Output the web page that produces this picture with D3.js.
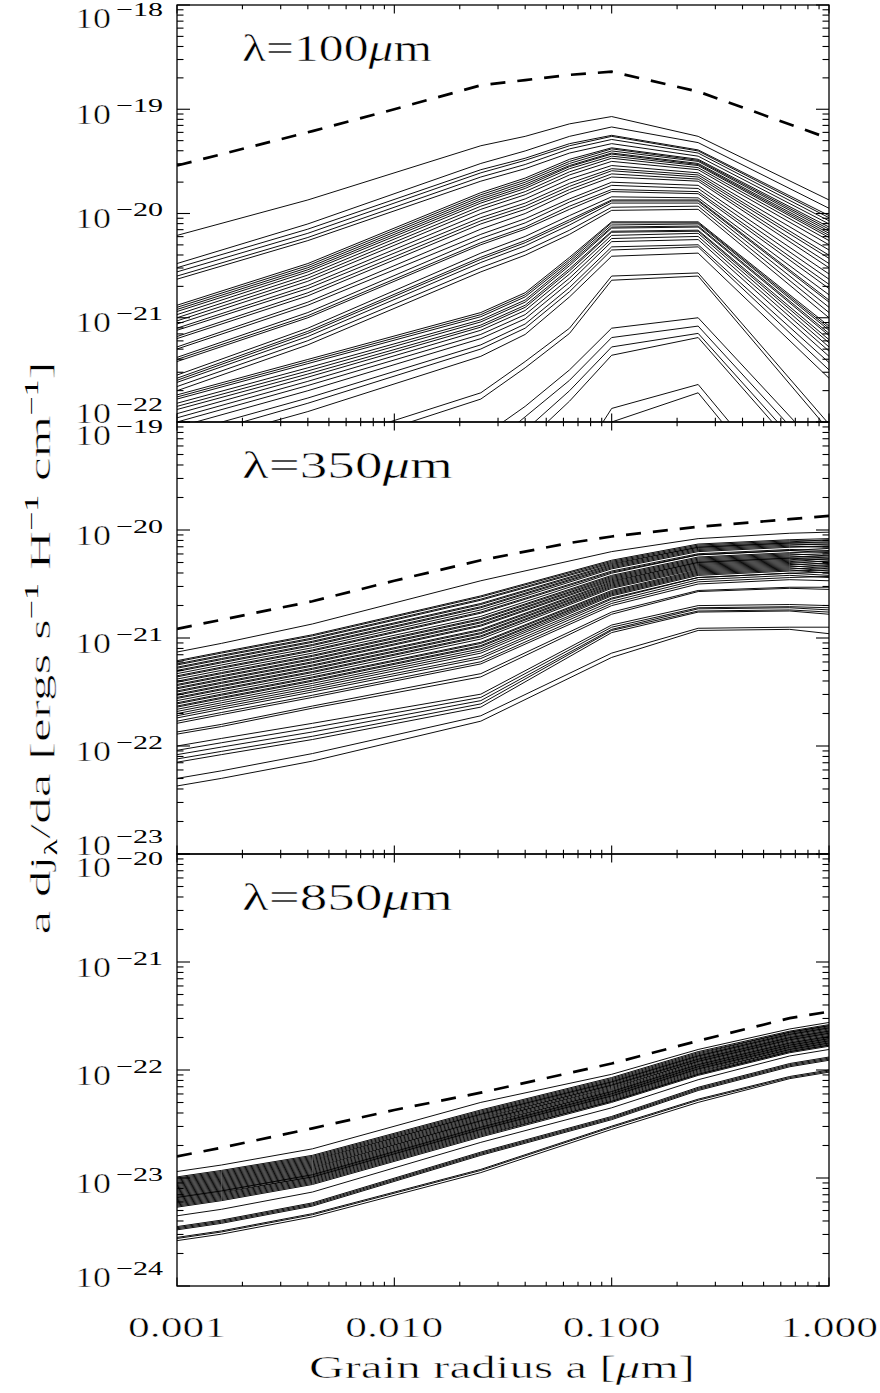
<!DOCTYPE html>
<html><head><meta charset="utf-8">
<script src="https://cdn.jsdelivr.net/npm/d3@7"></script>
<style>body{margin:0;background:#fff}svg{display:block}
text.thin{stroke:#fff;stroke-width:0.5px;paint-order:fill stroke}
tspan.small{stroke:none}</style>
</head><body>
<script>
// ---------------- DATA (log10 of a dj/da) ----------------
const xTickValues = [0.001, 0.01, 0.1, 1];
const xTickLabels = ["0.001", "0.010", "0.100", "1.000"];
const panelLabels = ["100", "350", "850"];
const decades100 = [-22, -21, -20, -19, -18];
const decades350 = [-23, -22, -21, -20, -19];
const decades850 = [-24, -23, -22, -21, -20];

const grid100 = [0.001, 0.004, 0.025, 0.04, 0.064, 0.1, 0.25, 1.0];
const gridLong = [0.001, 0.0016, 0.0042, 0.025, 0.1, 0.25, 0.66, 1.0];

const dashX100 = [0.001, 0.0042, 0.01, 0.025, 0.04, 0.064, 0.1, 0.25, 1.0];
const dash100 = [-19.54, -19.21, -19.00, -18.77, -18.72, -18.67, -18.64, -18.83, -19.28];
const dashX350 = [0.001, 0.0042, 0.01, 0.025, 0.064, 0.1, 0.25, 0.66, 1.0];
const dash350 = [-20.915, -20.66, -20.47, -20.28, -20.12, -20.06, -19.97, -19.90, -19.87];
const dashX850 = [0.001, 0.0016, 0.0042, 0.01, 0.025, 0.1, 0.25, 0.66, 1.0];
const dash850 = [-22.80, -22.72, -22.54, -22.37, -22.21, -21.94, -21.73, -21.52, -21.46];

const curves100 = [
[-20.21,-19.87,-19.35,-19.26,-19.14,-19.07,-19.26,-19.87],
[-20.48,-20.10,-19.52,-19.40,-19.26,-19.17,-19.32,-19.95],
[-20.52,-20.15,-19.58,-19.47,-19.33,-19.25,-19.39,-20.02],
[-20.56,-20.19,-19.61,-19.49,-19.35,-19.26,-19.40,-20.04],
[-20.60,-20.23,-19.65,-19.53,-19.38,-19.29,-19.42,-20.07],
[-20.63,-20.26,-19.69,-19.57,-19.42,-19.33,-19.45,-20.10],
[-20.88,-20.48,-19.80,-19.66,-19.48,-19.37,-19.48,-20.13],
[-20.90,-20.50,-19.82,-19.68,-19.50,-19.38,-19.49,-20.15],
[-20.92,-20.52,-19.84,-19.70,-19.52,-19.40,-19.50,-20.17],
[-20.94,-20.54,-19.86,-19.72,-19.54,-19.42,-19.52,-20.19],
[-20.97,-20.56,-19.88,-19.74,-19.55,-19.43,-19.53,-20.21],
[-21.00,-20.59,-19.90,-19.76,-19.57,-19.45,-19.54,-20.23],
[-21.03,-20.62,-19.93,-19.79,-19.60,-19.47,-19.56,-20.26],
[-21.06,-20.65,-19.96,-19.82,-19.63,-19.50,-19.58,-20.30],
[-21.10,-20.69,-20.00,-19.86,-19.67,-19.54,-19.61,-20.35],
[-21.12,-20.72,-20.04,-19.90,-19.71,-19.57,-19.63,-20.40],
[-21.18,-20.76,-20.07,-19.93,-19.74,-19.59,-19.65,-20.43],
[-21.20,-20.79,-20.10,-19.96,-19.77,-19.62,-19.67,-20.48],
[-21.28,-20.85,-20.15,-20.00,-19.80,-19.65,-19.69,-20.52],
[-21.30,-20.88,-20.20,-20.05,-19.86,-19.70,-19.73,-20.58],
[-21.38,-20.95,-20.24,-20.09,-19.89,-19.73,-19.76,-20.63],
[-21.40,-20.98,-20.28,-20.13,-19.93,-19.77,-19.79,-20.68],
[-21.42,-21.00,-20.30,-20.15,-19.96,-19.79,-19.81,-20.72],
[-21.55,-21.10,-20.38,-20.22,-20.02,-19.84,-19.85,-20.78],
[-21.58,-21.13,-20.42,-20.26,-20.06,-19.87,-19.87,-20.83],
[-21.60,-21.15,-20.44,-20.28,-20.08,-19.88,-19.88,-20.85],
[-21.62,-21.18,-20.47,-20.31,-20.11,-19.90,-19.90,-20.90],
[-21.66,-21.22,-20.52,-20.36,-20.16,-19.94,-19.93,-20.95],
[-21.70,-21.26,-20.56,-20.40,-20.20,-19.97,-19.96,-21.00],
[-21.74,-21.40,-20.95,-20.76,-20.42,-20.08,-20.08,-21.08],
[-21.76,-21.42,-20.97,-20.78,-20.44,-20.09,-20.09,-21.10],
[-21.78,-21.44,-20.99,-20.80,-20.46,-20.11,-20.10,-21.12],
[-21.82,-21.48,-21.02,-20.83,-20.48,-20.13,-20.12,-21.15],
[-21.85,-21.51,-21.04,-20.85,-20.50,-20.14,-20.13,-21.17],
[-21.88,-21.54,-21.07,-20.88,-20.53,-20.17,-20.16,-21.21],
[-21.92,-21.57,-21.09,-20.90,-20.55,-20.18,-20.17,-21.24],
[-21.96,-21.61,-21.12,-20.93,-20.58,-20.21,-20.19,-21.28],
[-22.00,-21.65,-21.16,-20.97,-20.62,-20.24,-20.22,-21.32],
[-22.05,-21.70,-21.20,-21.01,-20.66,-20.27,-20.25,-21.37],
[-22.12,-21.77,-21.26,-21.06,-20.71,-20.32,-20.30,-21.43],
[-22.18,-21.82,-21.30,-21.10,-20.75,-20.35,-20.32,-21.50],
[-22.25,-21.90,-21.37,-21.16,-20.80,-20.41,-20.38,-21.58],
[-22.65,-22.25,-21.72,-21.42,-21.10,-20.60,-20.57,-22.02],
[-22.72,-22.32,-21.78,-21.48,-21.15,-20.64,-20.60,-22.08],
[-23.40,-23.00,-22.15,-21.85,-21.50,-21.10,-21.00,-22.35],
[-23.50,-23.10,-22.30,-21.95,-21.60,-21.19,-21.08,-22.45],
[-23.60,-23.20,-22.45,-22.08,-21.70,-21.28,-21.15,-22.55],
[-23.70,-23.30,-22.55,-22.20,-21.80,-21.36,-21.19,-22.62],
[-24.80,-24.30,-23.60,-23.10,-22.50,-21.87,-21.64,-23.15],
[-25.00,-24.50,-23.80,-23.30,-22.70,-22.00,-21.72,-23.25]
];

const curves350 = [
[-21.13,-21.05,-20.87,-20.47,-20.20,-20.08,-20.03,-20.02],
[-21.21,-21.13,-20.97,-20.61,-20.28,-20.13,-20.09,-20.08],
[-21.22,-21.14,-20.98,-20.62,-20.29,-20.14,-20.10,-20.10],
[-21.24,-21.16,-21.00,-20.64,-20.30,-20.15,-20.11,-20.09],
[-21.25,-21.17,-21.01,-20.65,-20.31,-20.16,-20.12,-20.12],
[-21.27,-21.19,-21.03,-20.68,-20.32,-20.16,-20.12,-20.11],
[-21.28,-21.20,-21.04,-20.69,-20.33,-20.17,-20.13,-20.14],
[-21.30,-21.22,-21.06,-20.71,-20.34,-20.18,-20.14,-20.13],
[-21.31,-21.23,-21.07,-20.72,-20.35,-20.19,-20.15,-20.16],
[-21.33,-21.25,-21.09,-20.74,-20.36,-20.20,-20.16,-20.15],
[-21.35,-21.27,-21.11,-20.76,-20.38,-20.22,-20.18,-20.19],
[-21.36,-21.28,-21.12,-20.77,-20.39,-20.23,-20.19,-20.17],
[-21.38,-21.30,-21.14,-20.80,-20.40,-20.23,-20.19,-20.21],
[-21.40,-21.32,-21.16,-20.82,-20.42,-20.25,-20.21,-20.20],
[-21.41,-21.33,-21.17,-20.83,-20.43,-20.26,-20.22,-20.24],
[-21.43,-21.35,-21.19,-20.85,-20.44,-20.27,-20.23,-20.22],
[-21.44,-21.36,-21.20,-20.86,-20.45,-20.28,-20.24,-20.26],
[-21.46,-21.38,-21.22,-20.88,-20.46,-20.29,-20.25,-20.24],
[-21.47,-21.39,-21.23,-20.89,-20.47,-20.30,-20.26,-20.28],
[-21.49,-21.41,-21.25,-20.92,-20.48,-20.30,-20.26,-20.26],
[-21.50,-21.42,-21.26,-20.93,-20.49,-20.31,-20.27,-20.30],
[-21.52,-21.44,-21.28,-20.95,-20.50,-20.32,-20.28,-20.27],
[-21.53,-21.45,-21.29,-20.96,-20.51,-20.33,-20.29,-20.32],
[-21.55,-21.47,-21.31,-20.98,-20.52,-20.34,-20.30,-20.29],
[-21.56,-21.48,-21.32,-20.99,-20.53,-20.35,-20.31,-20.34],
[-21.58,-21.50,-21.34,-21.01,-20.54,-20.36,-20.32,-20.31],
[-21.60,-21.52,-21.36,-21.04,-20.56,-20.37,-20.33,-20.36],
[-21.61,-21.53,-21.37,-21.05,-20.57,-20.38,-20.34,-20.33],
[-21.63,-21.55,-21.39,-21.07,-20.58,-20.39,-20.35,-20.38],
[-21.64,-21.56,-21.40,-21.08,-20.59,-20.40,-20.36,-20.35],
[-21.66,-21.58,-21.42,-21.10,-20.60,-20.41,-20.37,-20.40],
[-21.68,-21.60,-21.44,-21.12,-20.61,-20.42,-20.38,-20.37],
[-21.70,-21.62,-21.46,-21.14,-20.63,-20.44,-20.40,-20.42],
[-21.72,-21.64,-21.48,-21.17,-20.64,-20.44,-20.40,-20.39],
[-21.74,-21.66,-21.50,-21.19,-20.66,-20.46,-20.42,-20.44],
[-21.77,-21.69,-21.53,-21.22,-20.68,-20.48,-20.44,-20.43],
[-21.79,-21.71,-21.55,-21.24,-20.70,-20.50,-20.46,-20.47],
[-21.87,-21.80,-21.63,-21.33,-20.76,-20.56,-20.53,-20.53],
[-21.89,-21.82,-21.65,-21.36,-20.78,-20.57,-20.54,-20.55],
[-22.00,-21.93,-21.79,-21.52,-20.88,-20.70,-20.69,-20.70],
[-22.04,-21.97,-21.83,-21.55,-20.90,-20.72,-20.71,-20.72],
[-22.08,-22.01,-21.87,-21.58,-20.92,-20.73,-20.72,-20.74],
[-22.12,-22.05,-21.91,-21.61,-20.93,-20.75,-20.74,-20.76],
[-22.15,-22.08,-21.94,-21.64,-20.95,-20.76,-20.75,-20.78],
[-22.30,-22.23,-22.07,-21.72,-21.14,-20.91,-20.90,-20.90],
[-22.37,-22.30,-22.14,-21.77,-21.18,-20.93,-20.92,-20.96]
];

const curves850 = [
[-22.94,-22.88,-22.73,-22.30,-22.04,-21.81,-21.62,-21.56],
[-22.99,-22.93,-22.79,-22.37,-22.07,-21.83,-21.64,-21.58],
[-23.00,-22.94,-22.80,-22.38,-22.08,-21.84,-21.65,-21.59],
[-23.01,-22.95,-22.81,-22.39,-22.09,-21.85,-21.65,-21.59],
[-23.02,-22.96,-22.82,-22.40,-22.10,-21.86,-21.66,-21.60],
[-23.03,-22.97,-22.83,-22.41,-22.11,-21.87,-21.67,-21.61],
[-23.04,-22.98,-22.84,-22.41,-22.11,-21.87,-21.67,-21.61],
[-23.05,-22.99,-22.85,-22.42,-22.12,-21.88,-21.68,-21.62],
[-23.06,-23.00,-22.86,-22.43,-22.13,-21.89,-21.69,-21.63],
[-23.07,-23.01,-22.87,-22.44,-22.14,-21.90,-21.70,-21.64],
[-23.08,-23.02,-22.88,-22.45,-22.14,-21.90,-21.70,-21.64],
[-23.09,-23.03,-22.89,-22.46,-22.15,-21.91,-21.71,-21.65],
[-23.10,-23.04,-22.90,-22.47,-22.16,-21.92,-21.72,-21.66],
[-23.11,-23.05,-22.91,-22.47,-22.17,-21.92,-21.72,-21.66],
[-23.12,-23.06,-22.92,-22.48,-22.18,-21.93,-21.73,-21.67],
[-23.13,-23.07,-22.93,-22.49,-22.19,-21.94,-21.74,-21.68],
[-23.14,-23.08,-22.94,-22.50,-22.20,-21.95,-21.75,-21.69],
[-23.15,-23.09,-22.95,-22.51,-22.20,-21.95,-21.75,-21.69],
[-23.16,-23.10,-22.96,-22.52,-22.21,-21.96,-21.76,-21.70],
[-23.17,-23.11,-22.97,-22.53,-22.22,-21.97,-21.77,-21.71],
[-23.18,-23.12,-22.97,-22.53,-22.22,-21.97,-21.77,-21.71],
[-23.18,-23.12,-22.98,-22.54,-22.23,-21.98,-21.78,-21.72],
[-23.19,-23.13,-22.99,-22.55,-22.24,-21.99,-21.79,-21.73],
[-23.20,-23.14,-22.99,-22.55,-22.24,-21.99,-21.79,-21.73],
[-23.21,-23.15,-23.00,-22.56,-22.25,-22.00,-21.80,-21.74],
[-23.22,-23.16,-23.01,-22.57,-22.26,-22.01,-21.81,-21.75],
[-23.23,-23.17,-23.02,-22.58,-22.27,-22.02,-21.81,-21.75],
[-23.24,-23.18,-23.03,-22.59,-22.28,-22.03,-21.82,-21.76],
[-23.25,-23.19,-23.04,-22.60,-22.29,-22.04,-21.83,-21.77],
[-23.26,-23.20,-23.05,-22.61,-22.29,-22.04,-21.83,-21.77],
[-23.27,-23.21,-23.06,-22.62,-22.30,-22.05,-21.84,-21.78],
[-23.35,-23.29,-23.13,-22.67,-22.35,-22.09,-21.87,-21.81],
[-23.45,-23.39,-23.23,-22.76,-22.43,-22.16,-21.94,-21.88],
[-23.46,-23.40,-23.24,-22.77,-22.44,-22.17,-21.95,-21.89],
[-23.47,-23.41,-23.25,-22.78,-22.45,-22.18,-21.96,-21.90],
[-23.48,-23.42,-23.26,-22.79,-22.46,-22.19,-21.97,-21.91],
[-23.55,-23.49,-23.33,-22.92,-22.52,-22.27,-22.06,-22.00],
[-23.56,-23.50,-23.34,-22.93,-22.53,-22.28,-22.07,-22.01],
[-23.58,-23.52,-23.36,-22.95,-22.55,-22.30,-22.08,-22.02]
];

// ---------------- DRAWING ----------------
const W = 880, H = 1393;
const LEFT = 177, RIGHT = 829;
const FONT = "'Liberation Serif', 'Times New Roman', serif";
const svg = d3.select("body").append("svg").attr("width", W).attr("height", H)
  .style("font-family", FONT);
svg.append("rect").attr("width", W).attr("height", H).attr("fill", "#fff");

const x = d3.scaleLog().domain([0.001, 1]).range([LEFT, RIGHT]);

const panels = [
  {curves: curves100, grid: grid100, dx: dashX100, dy: dash100, dec: decades100, top: 5, bottom: 422, label: panelLabels[0], lw: 190},
  {curves: curves350, grid: gridLong, dx: dashX350, dy: dash350, dec: decades350, top: 422, bottom: 854, label: panelLabels[1], lw: 211},
  {curves: curves850, grid: gridLong, dx: dashX850, dy: dash850, dec: decades850, top: 854, bottom: 1286, label: panelLabels[2], lw: 211}
];

const xMinor = [];
for (let e = -3; e < 0; e++) for (let m = 1; m <= 9; m++) xMinor.push({v: m * Math.pow(10, e), major: m === 1});
xMinor.push({v: 1, major: true});

panels.forEach((p, pi) => {
  const y = d3.scaleLog()
    .domain([Math.pow(10, p.dec[0]), Math.pow(10, p.dec[p.dec.length - 1])])
    .range([p.bottom, p.top]);
  const g = svg.append("g");
  const cid = "clip" + pi;
  svg.append("clipPath").attr("id", cid).append("rect")
    .attr("x", LEFT).attr("y", p.top).attr("width", RIGHT - LEFT).attr("height", p.bottom - p.top);

  const line = d3.line().x(d => x(d[0])).y(d => y(Math.pow(10, d[1])));
  const plot = g.append("g").attr("clip-path", `url(#${cid})`);
  p.curves.forEach(c => {
    plot.append("path").attr("d", line(p.grid.map((a, i) => [a, c[i]])))
      .attr("fill", "none").attr("stroke", "#000").attr("stroke-width", 0.95);
  });
  plot.append("path").attr("d", line(p.dx.map((a, i) => [a, p.dy[i]])))
    .attr("fill", "none").attr("stroke", "#000").attr("stroke-width", 2.7)
    .attr("stroke-dasharray", "15,12");

  // frame
  g.append("rect").attr("x", LEFT).attr("y", p.top).attr("width", RIGHT - LEFT).attr("height", p.bottom - p.top)
    .attr("fill", "none").attr("stroke", "#000").attr("stroke-width", 1.3);

  // y ticks
  const yt = [];
  for (let e = p.dec[0]; e < p.dec[p.dec.length - 1]; e++)
    for (let m = 1; m <= 9; m++) yt.push({v: m * Math.pow(10, e), major: m === 1});
  yt.push({v: Math.pow(10, p.dec[p.dec.length - 1]), major: true});
  yt.forEach(t => {
    const yy = y(t.v), len = t.major ? 13 : 6.5;
    g.append("line").attr("x1", LEFT).attr("x2", LEFT + len).attr("y1", yy).attr("y2", yy)
      .attr("stroke", "#000").attr("stroke-width", 1.1);
    g.append("line").attr("x1", RIGHT).attr("x2", RIGHT - len).attr("y1", yy).attr("y2", yy)
      .attr("stroke", "#000").attr("stroke-width", 1.1);
  });
  // x ticks
  xMinor.forEach(t => {
    const xx = x(t.v), len = t.major ? 8.5 : 4.3;
    g.append("line").attr("x1", xx).attr("x2", xx).attr("y1", p.bottom).attr("y2", p.bottom - len)
      .attr("stroke", "#000").attr("stroke-width", 1.1);
    g.append("line").attr("x1", xx).attr("x2", xx).attr("y1", p.top).attr("y2", p.top + len)
      .attr("stroke", "#000").attr("stroke-width", 1.1);
  });

  // y tick labels 10^e
  p.dec.forEach((e, k) => {
    const ty = y(Math.pow(10, e));
    let base = ty + 14.5;
    if (k === p.dec.length - 1) base = ty + 23;
    if (k === 0) base = ty + 0.5;
    g.append("text").attr("class", "thin").attr("x", 75).attr("y", base).attr("font-size", 30)
      .attr("textLength", 36).attr("lengthAdjust", "spacingAndGlyphs").attr("fill", "#000").text("10");
    g.append("text").attr("x", 116).attr("y", base - 12).attr("font-size", 19)
      .attr("textLength", 47).attr("lengthAdjust", "spacingAndGlyphs").attr("fill", "#000")
      .text("\u2212" + Math.abs(e));
  });

  // panel label
  const lt = g.append("text").attr("class", "thin").attr("x", 242).attr("y", p.top + 55.5).attr("font-size", 37)
    .attr("textLength", p.lw).attr("lengthAdjust", "spacingAndGlyphs").attr("fill", "#000");
  lt.append("tspan").text("\u03bb=" + p.label);
  lt.append("tspan").attr("font-style", "italic").text("\u03bc");
  lt.append("tspan").text("m");
});

// x tick labels (bottom panel only)
xTickValues.forEach((v, i) => {
  svg.append("text").attr("class", "thin").attr("x", x(v)).attr("y", 1337).attr("text-anchor", "middle")
    .attr("font-size", 30).attr("textLength", 98).attr("lengthAdjust", "spacingAndGlyphs")
    .attr("fill", "#000").text(xTickLabels[i]);
});

// x title
const xt = svg.append("text").attr("class", "thin").attr("x", 502).attr("y", 1378).attr("text-anchor", "middle")
  .attr("font-size", 31).attr("textLength", 386).attr("lengthAdjust", "spacingAndGlyphs").attr("fill", "#000");
xt.append("tspan").text("Grain radius a [");
xt.append("tspan").attr("font-style", "italic").text("\u03bc");
xt.append("tspan").text("m]");

// y title
const ytl = svg.append("text").attr("class", "thin").attr("transform", "translate(50,648) rotate(-90)")
  .attr("text-anchor", "middle").attr("font-size", 30)
  .attr("textLength", 573).attr("lengthAdjust", "spacingAndGlyphs").attr("fill", "#000");
ytl.append("tspan").text("a dj");
ytl.append("tspan").attr("class", "small").attr("font-size", 19).attr("dy", 7).text("\u03bb");
ytl.append("tspan").attr("dy", -7).text("/da [ergs s");
ytl.append("tspan").attr("class", "small").attr("font-size", 19).attr("dy", -12).text("\u22121");
ytl.append("tspan").attr("dy", 12).text(" H");
ytl.append("tspan").attr("class", "small").attr("font-size", 19).attr("dy", -12).text("\u22121");
ytl.append("tspan").attr("dy", 12).text(" cm");
ytl.append("tspan").attr("class", "small").attr("font-size", 19).attr("dy", -12).text("\u22121");
ytl.append("tspan").attr("dy", 12).text("]");
</script>
</body></html>
